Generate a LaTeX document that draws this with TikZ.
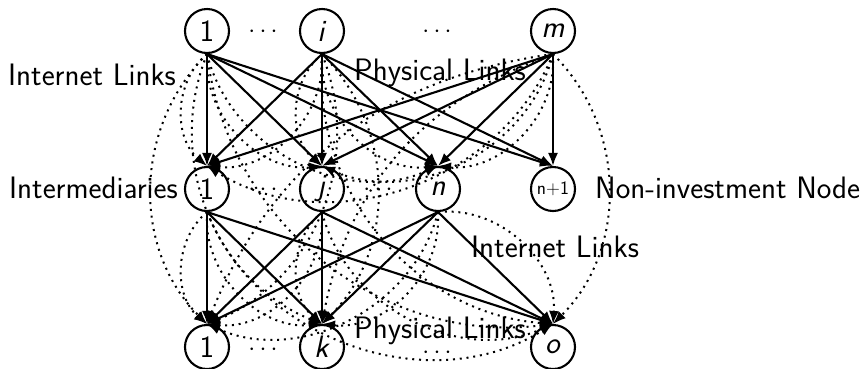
\documentclass[tikz,border=0pt]{standalone}
\usepackage{fontspec}
\usetikzlibrary{arrows.meta}
\begin{document}
\begin{tikzpicture}[x=1pt,y=-1pt,
  every node/.style={font=\sffamily\fontsize{31}{36}\selectfont},
  agent/.style={circle,draw,line width=2.1pt,minimum size=44pt,inner sep=0pt},
  phys/.style={line width=2.1pt,-{Latex[length=13pt,width=10pt]}},
  inet/.style={line width=2pt,dash pattern=on 2pt off 4.8pt,-{Latex[length=13pt,width=10pt]}},
  lab/.style={anchor=base west,inner sep=0pt},
  dotsn/.style={anchor=base,inner sep=0pt}]
\useasboundingbox (0,0) rectangle (863,368);
% nodes
\node[agent] (t1) at (207,31) {1};
\node[agent] (ti) at (322,31) {\textit{i}};
\node[agent] (tm) at (553,31) {\textit{m}};
\node[agent] (m1) at (207,189) {1};
\node[agent] (mj) at (322,189) {\textit{j}};
\node[agent] (mn) at (438,189) {\textit{n}};
\node[agent,font=\sffamily\fontsize{19}{22}\selectfont] (mn1) at (553,189) {n+1};
\node[agent] (b1) at (207,347) {1};
\node[agent] (bk) at (322,347) {\textit{k}};
\node[agent] (bo) at (553,347) {\textit{o}};
% dots
\node[dotsn] (d1) at (263,37) {$\cdots$};
\node[dotsn] (d2) at (437,37) {$\cdots$};
\node[dotsn] (d3) at (263,195) {$\cdots$};
\node[dotsn] (d4) at (378,195) {$\cdots$};
\node[dotsn] (d5) at (263,355) {$\cdots$};
\node[dotsn] (d6) at (437,358) {$\cdots$};
% labels
\node[lab] (l1) at (8,85) {Internet Links};
\node[lab] (l2) at (354,80) {Physical Links};
\node[lab] (l3) at (9,198) {Intermediaries};
\node[lab] (l4) at (595,198) {Non-investment Node};
\node[lab] (l5) at (471,257) {Internet Links};
\node[lab] (l6) at (354,338) {Physical Links};
% physical links
\foreach \s in {t1,ti,tm}{
  \foreach \t in {m1,mj,mn,mn1}{
    \draw[phys] (\s.south) -- (\t.north);
  }
}
\foreach \s in {m1,mj,mn}{
  \foreach \t in {b1,bk,bo}{
    \draw[phys] (\s.south) -- (\t.north);
  }
}
% internet links: top to middle
\draw[inet] (t1.south) to[bend right=50] (m1.north);
\draw[inet] (t1.south) to[bend right=50] (mj.north);
\draw[inet] (t1.south) to[bend right=50] (mn.north);
\draw[inet] (ti.south) to[bend left=50] (m1.north);
\draw[inet] (ti.south) to[bend right=50] (mj.north);
\draw[inet] (ti.south) to[bend right=50] (mn.north);
\draw[inet] (tm.south) to[bend left=50] (m1.north);
\draw[inet] (tm.south) to[bend left=50] (mj.north);
\draw[inet] (tm.south) to[bend left=50] (mn.north);
% internet links: top to bottom
\draw[inet] (t1.south) to[bend right=45] (b1.north);
\draw[inet] (t1.south) to[bend right=45] (bk.north);
\draw[inet] (t1.south) to[bend right=45] (bo.north);
\draw[inet] (ti.south) to[bend left=45] (b1.north);
\draw[inet] (ti.south) to[bend left=45] (bk.north);
\draw[inet] (ti.south) to[bend right=45] (bo.north);
\draw[inet] (tm.south) to[bend right=30] (b1.north);
\draw[inet] (tm.south) to[bend right=30] (bk.north);
\draw[inet] (tm.south) to[bend left=45] (bo.north);
% internet links: middle to bottom
\draw[inet] (m1.south) to[bend right=50] (b1.north);
\draw[inet] (m1.south) to[bend right=50] (bk.north);
\draw[inet] (m1.south) to[bend right=50] (bo.north);
\draw[inet] (mj.south) to[bend left=50] (b1.north);
\draw[inet] (mj.south) to[bend right=50] (bk.north);
\draw[inet] (mj.south) to[bend right=50] (bo.north);
\draw[inet] (mn.south) to[bend left=50] (b1.north);
\draw[inet] (mn.south) to[bend left=50] (bk.north);
\draw[inet] (mn.south) to[bend left=50] (bo.north);
\end{tikzpicture}
\end{document}
